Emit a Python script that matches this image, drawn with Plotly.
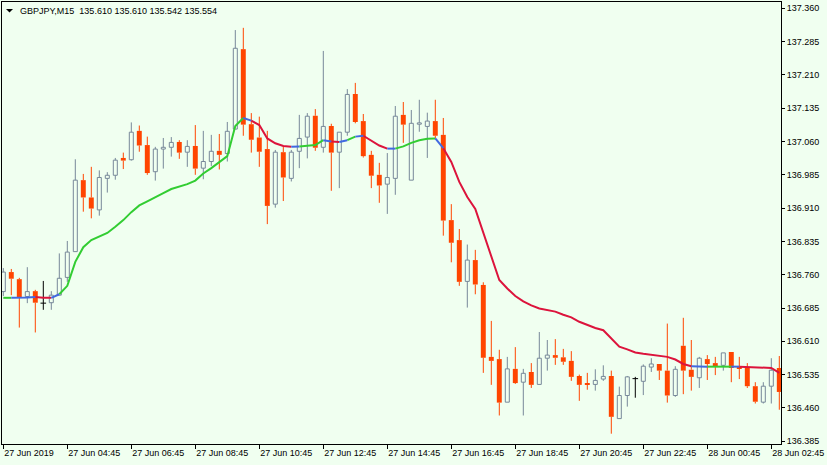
import plotly.graph_objects as go

# ---------------- data (GBPJPY M15, 27 Jun 2019 02:45 .. 28 Jun 03:00) ----------------
tick_labels = ["27 Jun 2019", "27 Jun 04:45", "27 Jun 06:45", "27 Jun 08:45", "27 Jun 10:45",
               "27 Jun 12:45", "27 Jun 14:45", "27 Jun 16:45", "27 Jun 18:45", "27 Jun 20:45",
               "27 Jun 22:45", "28 Jun 00:45", "28 Jun 02:45"]
tick_bars = [0, 8, 16, 24, 32, 40, 48, 56, 64, 72, 80, 88, 96]

open_ = [136.722, 136.766, 136.750, 136.711, 136.723, 136.696, 136.697, 136.714, 136.754, 136.812,
         136.973, 136.934, 136.906, 136.977, 136.984, 137.023, 137.019, 137.084, 137.052, 136.992,
         137.043, 137.047, 137.059, 137.036, 137.050, 137.000, 137.015, 137.039, 137.033, 137.088,
         137.268, 137.099, 137.069, 137.043, 136.919, 137.036, 136.977, 137.038, 137.070, 137.118,
         137.047, 137.095, 137.036, 137.081, 137.167, 137.106, 137.030, 136.985, 136.964, 136.977,
         137.120, 136.973, 137.099, 137.094, 137.106, 137.075, 136.883, 136.838, 136.745, 136.793,
         136.737, 136.575, 136.570, 136.473, 136.548, 136.518, 136.541, 136.513, 136.572, 136.579,
         136.574, 136.566, 136.532, 136.516, 136.513, 136.525, 136.532, 136.436, 136.488, 136.526,
         136.520, 136.552, 136.559, 136.544, 136.488, 136.600, 136.546, 136.528, 136.570, 136.561,
         136.556, 136.586, 136.552, 136.552, 136.509, 136.473, 136.509, 136.550]
high = [136.775, 136.773, 136.753, 136.777, 136.726, 136.746, 136.723, 136.808, 136.836, 137.020,
        136.987, 137.003, 136.995, 136.991, 137.023, 137.035, 137.103, 137.096, 137.071, 137.048,
        137.068, 137.070, 137.063, 137.063, 137.097, 137.084, 137.075, 137.077, 137.104, 137.311,
        137.316, 137.124, 137.116, 137.084, 137.041, 137.048, 137.041, 137.120, 137.124, 137.133,
        137.264, 137.100, 137.081, 137.178, 137.192, 137.122, 137.039, 137.012, 137.034, 137.140,
        137.149, 137.131, 137.154, 137.125, 137.154, 137.113, 136.919, 136.863, 136.828, 136.816,
        136.743, 136.656, 136.591, 136.575, 136.597, 136.548, 136.561, 136.631, 136.613, 136.615,
        136.593, 136.588, 136.535, 136.539, 136.547, 136.556, 136.544, 136.508, 136.532, 136.530,
        136.558, 136.572, 136.559, 136.650, 136.554, 136.663, 136.613, 136.575, 136.579, 136.575,
        136.584, 136.586, 136.575, 136.561, 136.518, 136.518, 136.572, 136.577]
low = [136.712, 136.714, 136.641, 136.696, 136.630, 136.681, 136.681, 136.714, 136.744, 136.812,
       136.902, 136.887, 136.893, 136.945, 136.974, 136.998, 137.017, 137.037, 136.985, 136.972,
       136.999, 137.026, 137.021, 137.003, 136.985, 136.975, 137.005, 136.997, 137.015, 137.088,
       137.073, 137.035, 137.003, 136.874, 136.911, 136.926, 136.970, 137.000, 137.022, 137.039,
       137.035, 136.949, 136.955, 137.073, 137.101, 137.024, 136.955, 136.922, 136.897, 136.940,
       137.057, 136.973, 137.082, 137.023, 137.067, 136.848, 136.788, 136.735, 136.686, 136.716,
       136.539, 136.512, 136.443, 136.473, 136.514, 136.443, 136.505, 136.513, 136.544, 136.557,
       136.557, 136.521, 136.476, 136.501, 136.499, 136.521, 136.402, 136.436, 136.463, 136.483,
       136.489, 136.541, 136.523, 136.472, 136.485, 136.491, 136.499, 136.505, 136.523, 136.534,
       136.544, 136.518, 136.525, 136.505, 136.470, 136.470, 136.470, 136.456]
close = [136.766, 136.751, 136.709, 136.722, 136.697, 136.696, 136.714, 136.752, 136.811, 136.973,
         136.934, 136.909, 136.979, 136.984, 137.018, 137.017, 137.081, 137.051, 136.989, 137.043,
         137.047, 137.058, 137.035, 137.049, 136.999, 137.015, 137.038, 137.030, 137.083, 137.270,
         137.098, 137.064, 137.037, 136.915, 137.036, 136.979, 137.036, 137.067, 137.117, 137.046,
         137.094, 137.035, 137.081, 137.166, 137.104, 137.027, 136.983, 136.961, 136.979, 137.117,
         137.098, 137.101, 137.102, 137.106, 137.073, 136.882, 136.832, 136.744, 136.793, 136.738,
         136.573, 136.566, 136.472, 136.548, 136.516, 136.538, 136.512, 136.572, 136.579, 136.573,
         136.564, 136.530, 136.512, 136.512, 136.522, 136.531, 136.440, 136.488, 136.530, 136.526,
         136.554, 136.559, 136.544, 136.488, 136.547, 136.544, 136.530, 136.572, 136.559, 136.554,
         136.584, 136.550, 136.548, 136.509, 136.474, 136.509, 136.545, 136.496]
ma = [136.708, 136.708, 136.708, 136.709, 136.710, 136.708, 136.708, 136.716, 136.735, 136.789,
      136.822, 136.838, 136.846, 136.854, 136.868, 136.883, 136.901, 136.916, 136.925, 136.935,
      136.944, 136.953, 136.958, 136.964, 136.972, 136.988, 137.000, 137.013, 137.027, 137.095,
      137.113, 137.107, 137.097, 137.067, 137.056, 137.050, 137.048, 137.049, 137.051, 137.052,
      137.063, 137.060, 137.059, 137.063, 137.071, 137.073, 137.062, 137.051, 137.044, 137.044,
      137.049, 137.057, 137.063, 137.066, 137.067, 137.045, 137.014, 136.969, 136.935, 136.908,
      136.854, 136.802, 136.748, 136.729, 136.712, 136.700, 136.691, 136.684, 136.681, 136.677,
      136.670, 136.664, 136.654, 136.647, 136.640, 136.635, 136.617, 136.598, 136.592, 136.585,
      136.582, 136.580, 136.578, 136.575, 136.569, 136.559, 136.554, 136.553, 136.553, 136.553,
      136.553, 136.553, 136.553, 136.552, 136.551, 136.551, 136.550, 136.539]
# MA state of each segment ending at bar i: g = rising, r = falling, b = flat
ma_state = ("ggbbbrrb" "ggggggggggggggggggggggg" "b" "rrrrr" "b" "ggg" "b" "r" "b" "g" "b"
            "rrr" "b" "ggggg" "b" "rrrrrrrrrrrrrrrrrrrrrrrrrrrrrrr" "bb" "ggg" "b" "rrrrr")

title_text = "GBPJPY,M15\u00a0 135.610 135.610 135.542 135.554"

# ---------------- styling ----------------
BG = "#F0FFF0"
BULL = "#778899"
BEAR = "#FF4500"
MA_COL = {"g": "#32CD32", "r": "#DC143C", "b": "#4169E1"}

n = len(open_)
idx = list(range(n))

fig = go.Figure()

bull_i = [i for i in idx if close[i] > open_[i]]
bear_i = [i for i in idx if close[i] < open_[i]]
doji_i = [i for i in idx if close[i] == open_[i]]

fig.add_trace(go.Bar(x=bull_i, base=[open_[i] for i in bull_i],
                     y=[close[i] - open_[i] for i in bull_i], width=0.5,
                     marker=dict(color=BG, line=dict(color=BULL, width=1)), hoverinfo="skip"))
fig.add_trace(go.Bar(x=bear_i, base=[close[i] for i in bear_i],
                     y=[open_[i] - close[i] for i in bear_i], width=0.62,
                     marker=dict(color=BEAR, line=dict(color=BEAR, width=0)), hoverinfo="skip"))


def wick_trace(ids, color):
    xs, ys = [], []
    for i in ids:
        top = max(open_[i], close[i])
        bot = min(open_[i], close[i])
        if high[i] > top:
            xs += [i, i, None]
            ys += [top, high[i], None]
        if low[i] < bot:
            xs += [i, i, None]
            ys += [bot, low[i], None]
    return go.Scatter(x=xs, y=ys, mode="lines", line=dict(color=color, width=1),
                      hoverinfo="skip")


fig.add_trace(wick_trace(bull_i, BULL))
fig.add_trace(wick_trace(bear_i, BEAR))

# doji crosses
dx, dy = [], []
for i in doji_i:
    dx += [i, i, None, i - 0.35, i + 0.35, None]
    dy += [low[i], high[i], None, open_[i], open_[i], None]
fig.add_trace(go.Scatter(x=dx, y=dy, mode="lines", line=dict(color="black", width=1),
                         hoverinfo="skip"))

# coloured moving average
for code, col in MA_COL.items():
    xs, ys = [], []
    i = 1
    while i < n:
        if ma_state[i] == code:
            start = i - 1
            while i < n and ma_state[i] == code:
                i += 1
            xs += list(range(start, i)) + [None]
            ys += ma[start:i] + [None]
        else:
            i += 1
    fig.add_trace(go.Scatter(x=xs, y=ys, mode="lines", line=dict(color=col, width=2),
                             hoverinfo="skip"))

# ---------------- layout ----------------
W, H = 827, 465
L, R, T, B = 2, 46, 2, 21
pw, ph = W - L - R, H - T - B
px_per_bar = 8.0
x0 = -1.3 / px_per_bar
x1 = x0 + pw / px_per_bar


def paper_x(px):
    return (px - L) / pw


def paper_y(py):
    return 1 - (py - T) / ph


fig.update_layout(
    width=W, height=H,
    margin=dict(l=L, r=R, t=T, b=B, pad=0, autoexpand=False),
    paper_bgcolor=BG, plot_bgcolor=BG,
    showlegend=False, barmode="overlay",
    font=dict(family="Liberation Sans", size=9, color="black"),
    xaxis=dict(range=[x0, x1], tickmode="array", tickvals=tick_bars, ticktext=tick_labels,
               ticks="outside", ticklen=4, tickcolor="black", tickwidth=1,
               ticklabelposition="outside right", ticklabeloverflow="allow",
               automargin=False,
               showline=True, linecolor="black", linewidth=1, mirror=True,
               showgrid=False, zeroline=False, fixedrange=True),
    yaxis=dict(side="right", range=[136.3788, 137.3742], tick0=136.385, dtick=0.075,
               tickformat=".3f", ticks="outside", ticklen=3, tickcolor="black",
               automargin=False,
               showline=True, linecolor="black", linewidth=1, mirror=True,
               showgrid=False, zeroline=False, fixedrange=True),
    annotations=[dict(text=title_text, xref="paper", yref="paper",
                      x=paper_x(17.5), y=paper_y(10.5), xanchor="left", yanchor="middle",
                      showarrow=False, font=dict(family="Liberation Sans", size=9, color="black"))],
    shapes=[dict(type="path", xref="paper", yref="paper",
                 path="M {:.5f},{:.5f} L {:.5f},{:.5f} L {:.5f},{:.5f} Z".format(
                     paper_x(6), paper_y(9), paper_x(13), paper_y(9), paper_x(9.5), paper_y(12.5)),
                 fillcolor="black", line=dict(width=0))],
)

fig.write_html("out.html",
               config={"displayModeBar": False},
               post_script="document.body.style.margin='0';"
                           "document.body.style.background='#F0FFF0';"
                           "document.body.style.overflow='hidden';")
